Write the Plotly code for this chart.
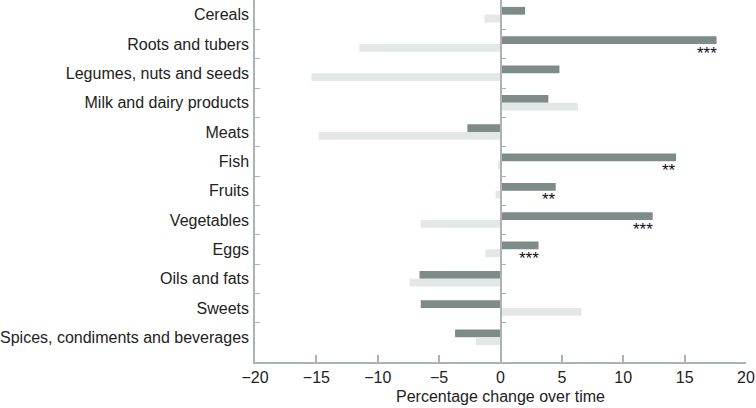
import plotly.graph_objects as go

categories = ["Cereals", "Roots and tubers", "Legumes, nuts and seeds", "Milk and dairy products",
              "Meats", "Fish", "Fruits", "Vegetables", "Eggs", "Oils and fats", "Sweets",
              "Spices, condiments and beverages"]
dark_values = [2.0, 17.6, 4.8, 3.9, -2.7, 14.3, 4.5, 12.4, 3.1, -6.6, -6.5, -3.7]
light_values = [-1.3, -11.5, -15.4, 6.3, -14.8, -0.2, -0.4, -6.5, -1.25, -7.4, 6.6, -2.0]
significance = ["", "***", "", "", "", "**", "**", "***", "***", "", "", ""]
x_ticks = [-20, -15, -10, -5, 0, 5, 10, 15, 20]
x_title = "Percentage change over time"

DARK = "#7f8b88"
LIGHT = "#e3e7e5"
AXIS = "#aab4b2"
FONT = "Liberation Sans, Arial, sans-serif"

fig = go.Figure()
fig.add_trace(go.Bar(y=categories, x=dark_values, orientation="h", marker_color=DARK,
                     marker_line_width=0, name="dark", showlegend=False))
fig.add_trace(go.Bar(y=categories, x=light_values, orientation="h", marker_color=LIGHT,
                     marker_line_width=0, name="light", showlegend=False))
# invisible helper trace so the zero-line axis with boundary ticks renders
fig.add_trace(go.Scatter(y=categories, x=[0] * len(categories), mode="markers",
                         marker=dict(opacity=0), yaxis="y2", hoverinfo="skip", showlegend=False))

for cat, val, sig in zip(categories, dark_values, significance):
    if sig:
        fig.add_annotation(x=val, y=cat, text=sig, showarrow=False, xanchor="right",
                           yanchor="middle", yshift=-9, xshift=2,
                           font=dict(family=FONT, size=17, color="#111"))

n = len(categories)
yrange = [n - 0.5 + 0.34, -0.5]

fig.update_layout(
    width=756, height=408,
    margin=dict(l=255, r=10, t=0, b=46, autoexpand=False),
    paper_bgcolor="white", plot_bgcolor="white",
    barmode="group", bargap=0.47, bargroupgap=0,
    font=dict(family=FONT, size=16, color="#222"),
    xaxis=dict(range=[-20, 20], tickvals=x_ticks,
               ticktext=[("\u2212" + str(abs(v))) if v < 0 else str(v) for v in x_ticks],
               showgrid=False, zeroline=False, showline=True, linecolor=AXIS, linewidth=1.5,
               ticks="inside", ticklen=7, tickcolor=AXIS, tickwidth=1.5,
               tickfont=dict(size=16, color="#222"),
               title=dict(text=x_title, font=dict(size=16, color="#222"), standoff=6)),
    yaxis=dict(type="category", categoryorder="array", categoryarray=categories,
               range=yrange, showgrid=False, zeroline=False, showline=True,
               linecolor=AXIS, linewidth=1.5, ticks="inside", tickson="boundaries",
               ticklen=5, tickcolor=AXIS, tickwidth=1,
               tickfont=dict(size=16, color="#222"), ticklabelstandoff=1),
    yaxis2=dict(type="category", categoryorder="array", categoryarray=categories,
                overlaying="y", matches="y", anchor="free", position=0.5,
                showgrid=False, zeroline=False, showline=True, linecolor=AXIS, linewidth=1.5,
                ticks="inside", tickson="boundaries", ticklen=5, tickcolor=AXIS, tickwidth=1,
                showticklabels=False),
)

fig.write_html("out.html", config={"displayModeBar": False},
               post_script="document.body.style.margin='0';document.body.style.padding='0';")
